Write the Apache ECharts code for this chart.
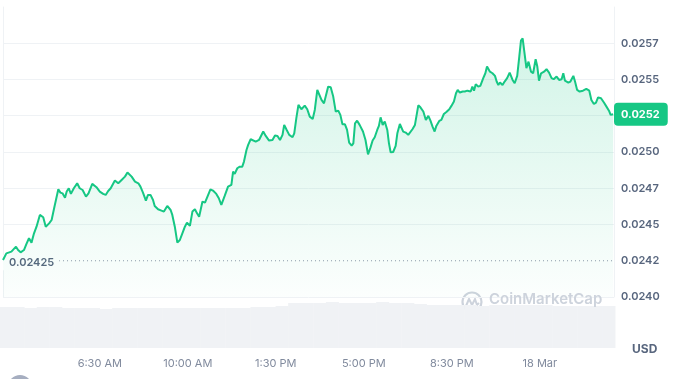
<!DOCTYPE html>
<html><head><meta charset="utf-8">
<script src="https://cdn.jsdelivr.net/npm/echarts@6/dist/echarts.min.js"></script>
<style>html,body{margin:0;padding:0;background:#fff}#c{width:675px;height:379px}</style>
</head><body><div id="c"></div>
<script>
// time in minutes since 17 Mar 00:00
const times = [
159,167,179,190,195,201,209,215,221,227,
233,239,247,255,261,269,275,281,285,291,
296,301,307,311,316,321,328,336,342,349,
357,363,372,382,390,398,404,410,416,426,
434,442,450,456,466,474,482,487,493,500,
505,511,517,521,529,537,543,551,559,563,
569,575,581,587,593,598,605,611,617,622,
627,631,635,641,645,654,660,668,674,680,
688,696,704,708,712,718,724,730,734,740,
744,750,754,762,770,780,786,794,802,808,
814,820,826,830,836,842,850,854,859,864,
871,879,885,891,898,903,909,913,919,925,
929,935,941,947,953,959,964,969,975,980,
985,991,995,999,1004,1010,1018,1024,1030,1036,
1041,1046,1052,1056,1060,1065,1070,1076,1080,1084,
1090,1096,1100,1106,1110,1114,1120,1126,1130,1136,
1142,1146,1150,1155,1162,1168,1174,1179,1184,1189,
1193,1200,1205,1211,1217,1224,1229,1235,1240,1244,
1249,1256,1261,1267,1271,1275,1279,1283,1287,1293,
1298,1305,1310,1314,1321,1327,1333,1337,1341,1345,
1351,1356,1362,1368,1375,1380,1386,1391,1395,1399,
1403,1408,1413,1419,1424,1430,1434,1438,1443,1450,
1456,1462,1468,1473,1480,1486,1492,1496,1500,1504,
1508,1513,1520,1524,1529,1535,1543,1551,1558,1563,
1569,1574,1579,1586,1593,1599,1605,1609,1615];
const prices = [
0.024255,0.024301,0.024313,0.024347,0.024324,0.024308,0.024324,0.024366,0.024405,0.024375,
0.024439,0.024485,0.024566,0.02455,0.024485,0.024508,0.024531,0.024612,0.024623,0.024743,
0.02472,0.024715,0.024685,0.024727,0.02475,0.024711,0.02475,0.024784,0.02475,0.024738,
0.024692,0.024715,0.02478,0.024757,0.024727,0.024711,0.024704,0.024731,0.02475,0.024803,
0.024784,0.024807,0.02483,0.024858,0.02483,0.024796,0.024784,0.024761,0.02472,0.024665,
0.024704,0.024704,0.024669,0.024628,0.024605,0.024596,0.024589,0.024628,0.0246,0.024566,
0.024485,0.024375,0.024393,0.024439,0.024485,0.024513,0.02449,0.024589,0.024605,0.024577,
0.024554,0.024561,0.024658,0.024651,0.024651,0.024743,0.024734,0.024711,0.024681,0.024635,
0.024697,0.024761,0.024773,0.024865,0.024849,0.024888,0.024899,0.024899,0.024934,0.025014,
0.025049,0.025088,0.025095,0.025072,0.025083,0.025141,0.025111,0.025079,0.025083,0.025113,
0.025111,0.025083,0.025118,0.025187,0.025152,0.025118,0.025102,0.025129,0.025233,0.025325,
0.025295,0.02532,0.025295,0.025244,0.025228,0.02529,0.025428,0.025428,0.025359,0.025336,
0.025336,0.025451,0.025446,0.025382,0.025279,0.025285,0.025256,0.025191,0.025191,0.025152,
0.025065,0.025044,0.02506,0.025198,0.025216,0.025187,0.025141,0.025083,0.024984,0.025032,
0.025079,0.025102,0.025152,0.02518,0.025239,0.025187,0.02521,0.025152,0.02506,0.024998,
0.025,0.025042,0.025129,0.025193,0.025203,0.025141,0.025134,0.025118,0.025106,0.025157,
0.025187,0.025193,0.025322,0.025308,0.025279,0.025221,0.025249,0.025216,0.025175,0.025141,
0.02518,0.025214,0.025221,0.025262,0.025276,0.025295,0.025318,0.025348,0.025405,0.025428,
0.02541,0.025417,0.025417,0.025423,0.025433,0.025417,0.025451,0.025423,0.025467,0.025451,
0.025456,0.025509,0.025543,0.025589,0.025554,0.025543,0.025525,0.025486,0.025462,0.025479,
0.025462,0.025486,0.025509,0.025548,0.025497,0.025474,0.025525,0.025658,0.025768,0.025784,
0.025692,0.025578,0.025623,0.025554,0.025543,0.02564,0.025589,0.025492,0.025543,0.025554,
0.025571,0.025548,0.025509,0.025502,0.02552,0.025497,0.025502,0.025543,0.025492,0.025502,
0.025479,0.025486,0.025525,0.025486,0.025428,0.025417,0.025423,0.025435,0.025423,0.025359,
0.025331,0.025341,0.025377,0.025371,0.025341,0.025313,0.025285,0.025256,0.02526];
const volTimes = [165,195,225,255,285,315,345,375,405,435,465,495,525,555,585,615,645,675,705,735,
765,795,825,855,885,915,945,975,1005,1035,1065,1095,1125,1155,1185,1215,1245,1275,1305,1335,
1365,1395,1425,1455,1485,1515,1545,1575,1605];
const volumes = [41,41,40,41,41,40,40,40,39,40,40,40,40,40,40,40,40,40,40,40,
41,41,42,45,45,45,46,45,45,45,46,45,45,44,43,43,43,43,42,43,
43,43,43,43,42,42,42,42,42];
const yTickValues = [0.024,0.02425,0.0245,0.02475,0.025,0.02525,0.0255,0.02575];
const yTickLabels = ['0.0240','0.0242','0.0245','0.0247','0.0250','0.0252','0.0255','0.0257'];
const gridValues = [0.024,0.0245,0.02475,0.025,0.02525,0.0255,0.02575];
const xTickValues = [390,600,810,1020,1230,1440];
const xTickLabels = ['6:30 AM','10:00 AM','1:30 PM','5:00 PM','8:30 PM','18 Mar'];
const openPrice = 0.02425;
const unitName = 'USD';
const brandName = 'CoinMarketCap';

const xMin = times[0], xMax = times[times.length - 1] + 2;
const lastPrice = prices[prices.length - 1];
function lookup(vals, labels, v, tol) {
  for (let i = 0; i < vals.length; i++) if (Math.abs(vals[i] - v) < tol) return labels[i];
  return '';
}
function trunc4(v) { return (Math.floor(v * 1e4 + 1e-6) / 1e4).toFixed(4); }

const FONT = 'Inter, "Noto Sans", sans-serif';
const chart = echarts.init(document.getElementById('c'), null, {renderer: 'canvas'});
chart.setOption({
  animation: false,
  backgroundColor: '#ffffff',
  textStyle: {fontFamily: FONT},
  title: {text: unitName, left: 627, top: 338,
    textStyle: {fontFamily: FONT, fontSize: 12, fontWeight: 700, color: '#58667e'}},
  grid: [
    {left: 3, right: 61, top: 7, bottom: 82},
    {left: 3, right: 61, top: 300, bottom: 31}
  ],
  xAxis: [
    {type: 'value', gridIndex: 0, min: xMin, max: xMax, show: false},
    {type: 'value', gridIndex: 1, min: xMin, max: xMax,
      axisLine: {show: false}, axisTick: {show: false}, splitLine: {show: false},
      axisLabel: {customValues: xTickValues, margin: 10, color: '#808a9d', fontSize: 11, fontFamily: FONT,
        formatter: v => lookup(xTickValues, xTickLabels, v, 0.5)}}
  ],
  yAxis: [
    {type: 'value', gridIndex: 0, position: 'right', min: 0.024, max: 0.026,
      axisLine: {show: true, lineStyle: {color: '#eff2f5'}},
      axisTick: {show: false, customValues: gridValues},
      splitLine: {show: true, lineStyle: {color: '#eff2f5', width: 1}},
      axisLabel: {customValues: yTickValues, margin: 7, color: '#58667e', fontSize: 11, fontWeight: 600,
        fontFamily: FONT, formatter: v => lookup(yTickValues, yTickLabels, v, 1e-7)}},
    {type: 'value', gridIndex: 0, position: 'left', min: 0.024, max: 0.026,
      axisLine: {show: true, lineStyle: {color: '#eff2f5'}},
      axisTick: {show: false}, axisLabel: {show: false}, splitLine: {show: false}},
    {type: 'value', gridIndex: 1, min: 0, max: 48, show: false}
  ],
  series: [
    {type: 'bar', xAxisIndex: 1, yAxisIndex: 2, barWidth: 13, silent: true,
      itemStyle: {color: '#f0f2f5'},
      data: volTimes.map((t, i) => [t, volumes[i]])},
    {type: 'line', name: 'open', xAxisIndex: 0, yAxisIndex: 0, silent: true, z: 2,
      symbol: 'circle', symbolSize: 0, showSymbol: true,
      lineStyle: {type: [1, 3], color: '#8f99aa', width: 1},
      data: [
        {value: [xMin, openPrice], label: {show: true, position: 'right', distance: 0, offset: [0, 2],
          formatter: String(openPrice), color: '#58667e', fontSize: 11, fontWeight: 600, fontFamily: FONT,
          backgroundColor: '#ffffff', padding: [2, 5, 2, 6]}},
        {value: [xMax, openPrice]}
      ]},
    {type: 'line', name: 'price', xAxisIndex: 0, yAxisIndex: 0, showSymbol: false, symbol: 'none',
      lineStyle: {color: '#16c784', width: 2}, z: 3, silent: true,
      areaStyle: {origin: 'start', color: new echarts.graphic.LinearGradient(0, 0, 0, 1, [
        {offset: 0, color: 'rgba(22,199,132,0.28)'}, {offset: 1, color: 'rgba(22,199,132,0.02)'}])},
      data: times.map((t, i) => [t, prices[i]])},
    {type: 'line', name: 'last', xAxisIndex: 0, yAxisIndex: 0, silent: true, z: 5,
      symbol: 'circle', symbolSize: 0, showSymbol: true, lineStyle: {opacity: 0},
      data: [{value: [xMax, lastPrice], label: {show: true, position: 'right', distance: 0,
        formatter: trunc4(lastPrice), color: '#ffffff', fontSize: 11, fontWeight: 700, fontFamily: FONT,
        backgroundColor: '#16c784', padding: [6, 8, 6, 7], borderRadius: 4}}]}
  ],
  graphic: [
    {type: 'group', left: 460, top: 290, z: 10, silent: true, children: [
      {type: 'circle', shape: {cx: 11, cy: 10, r: 9.5}, style: {fill: 'none', stroke: '#cdd3dc', lineWidth: 2.2}},
      {type: 'polyline', shape: {points: [[5, 14], [8, 7], [11, 13], [14, 7], [16, 13], [18, 11]]},
        style: {fill: 'none', stroke: '#cdd3dc', lineWidth: 2}}
    ]},
    {type: 'text', left: 489, top: 292, z: 10, silent: true,
      style: {text: brandName, fill: '#cdd3dc', font: '600 15px ' + FONT}},
    {type: 'circle', shape: {cx: 20, cy: 387, r: 12}, style: {fill: '#a6aec0'}, silent: true}
  ]
});
</script></body></html>
